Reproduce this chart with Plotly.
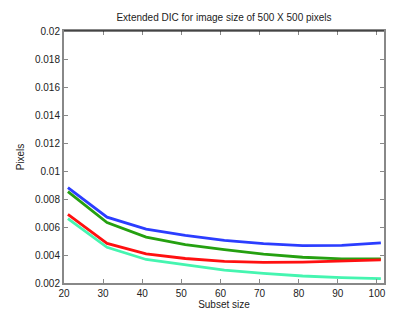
import plotly.graph_objects as go

subset_size = [21, 31, 41, 51, 61, 71, 81, 91, 101]
blue_vals = [0.00882, 0.00670, 0.00585, 0.00540, 0.00505, 0.00481, 0.00467, 0.00469, 0.00486]
green_vals = [0.00852, 0.00632, 0.00528, 0.00474, 0.00439, 0.00406, 0.00384, 0.00372, 0.00372]
red_vals = [0.00691, 0.00483, 0.00408, 0.00375, 0.00354, 0.00347, 0.00349, 0.00358, 0.00365]
cyan_vals = [0.00659, 0.00455, 0.00368, 0.00328, 0.00292, 0.00269, 0.00250, 0.00238, 0.00231]

x_ticks = [20, 30, 40, 50, 60, 70, 80, 90, 100]
y_ticks = [0.002, 0.004, 0.006, 0.008, 0.01, 0.012, 0.014, 0.016, 0.018, 0.02]
y_tick_text = ["0.002", "0.004", "0.006", "0.008", "0.01", "0.012", "0.014", "0.016", "0.018", "0.02"]

series = [
    (blue_vals, "#2b3dff"),
    (green_vals, "#25a010"),
    (red_vals, "#ff1010"),
    (cyan_vals, "#45f5b0"),
]

fig = go.Figure()
for vals, col in series:
    fig.add_trace(go.Scatter(x=subset_size, y=vals, mode="lines",
                             line=dict(color=col, width=2.8), showlegend=False))

font = "Liberation Sans, Arial, sans-serif"
fig.update_layout(
    width=415, height=312,
    margin=dict(l=54, r=39, t=23, b=35),
    paper_bgcolor="white", plot_bgcolor="white",
    font=dict(family=font, size=10, color="#222"),
    title=dict(text="Extended DIC for image size of 500 X 500 pixels",
               x=0.5, xref="paper", y=1, yref="container", yanchor="top",
               pad=dict(t=6), font=dict(size=10, family=font, color="#222")),
    showlegend=False,
)
fig.update_xaxes(range=[20, 101.8], tickvals=x_ticks, ticks="inside", ticklen=4,
                 tickcolor="#888", linecolor="#888", linewidth=2, mirror="ticks",
                 showgrid=False, zeroline=False,
                 title=dict(text="Subset size", standoff=2, font=dict(size=10)))
fig.update_yaxes(range=[0.002, 0.02], tickvals=y_ticks, ticktext=y_tick_text,
                 ticks="inside", ticklen=4, tickcolor="#888", linecolor="#888",
                 linewidth=2, mirror="ticks", showgrid=False, zeroline=False,
                 title=dict(text="Pixels", standoff=8, font=dict(size=10)))
fig.add_shape(type="line", xref="paper", yref="paper", x0=0, x1=1, y0=1, y1=1,
              line=dict(color="black", width=1))

fig.write_html("out.html")
